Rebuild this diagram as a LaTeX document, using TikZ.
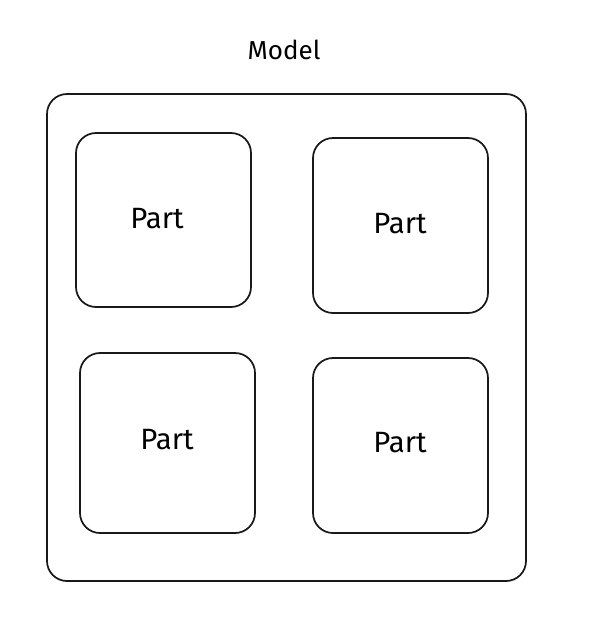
\documentclass[tikz,border=0pt]{standalone}
\usepackage{fontspec}
\setmainfont{Fira Sans}
\begin{document}
\begin{tikzpicture}[x=0.75pt,y=-0.75pt,
  box/.style={draw=black!90,line width=1.3pt,rounded corners=15pt,inner sep=0pt,outer sep=0pt},
  lbl/.style={anchor=base,inner sep=0pt,font=\fontsize{22}{25}\selectfont},
  ttl/.style={anchor=base,inner sep=0pt,font=\fontsize{19.5}{22}\selectfont}]
\useasboundingbox[fill=white] (0,0) rectangle (602,636);
\node[box,minimum width=359.25pt,minimum height=365.25pt] (model) at (286.5,337.5) {};
\node[box,minimum width=131.25pt,minimum height=130.5pt] (tl) at (163.5,220) {};
\node[box,minimum width=131.25pt,minimum height=131.25pt] (tr) at (400.5,225.5) {};
\node[box,minimum width=131.25pt,minimum height=135pt] (bl) at (167.5,443) {};
\node[box,minimum width=131.25pt,minimum height=131.25pt] (br) at (400.5,445.5) {};
\node[ttl] (title) at (284,59) {Model};
\node[lbl] (ltl) at (157,228) {Part};
\node[lbl] (ltr) at (400,233) {Part};
\node[lbl] (lbl) at (167,449) {Part};
\node[lbl] (lbr) at (400,452) {Part};
\end{tikzpicture}
\end{document}
